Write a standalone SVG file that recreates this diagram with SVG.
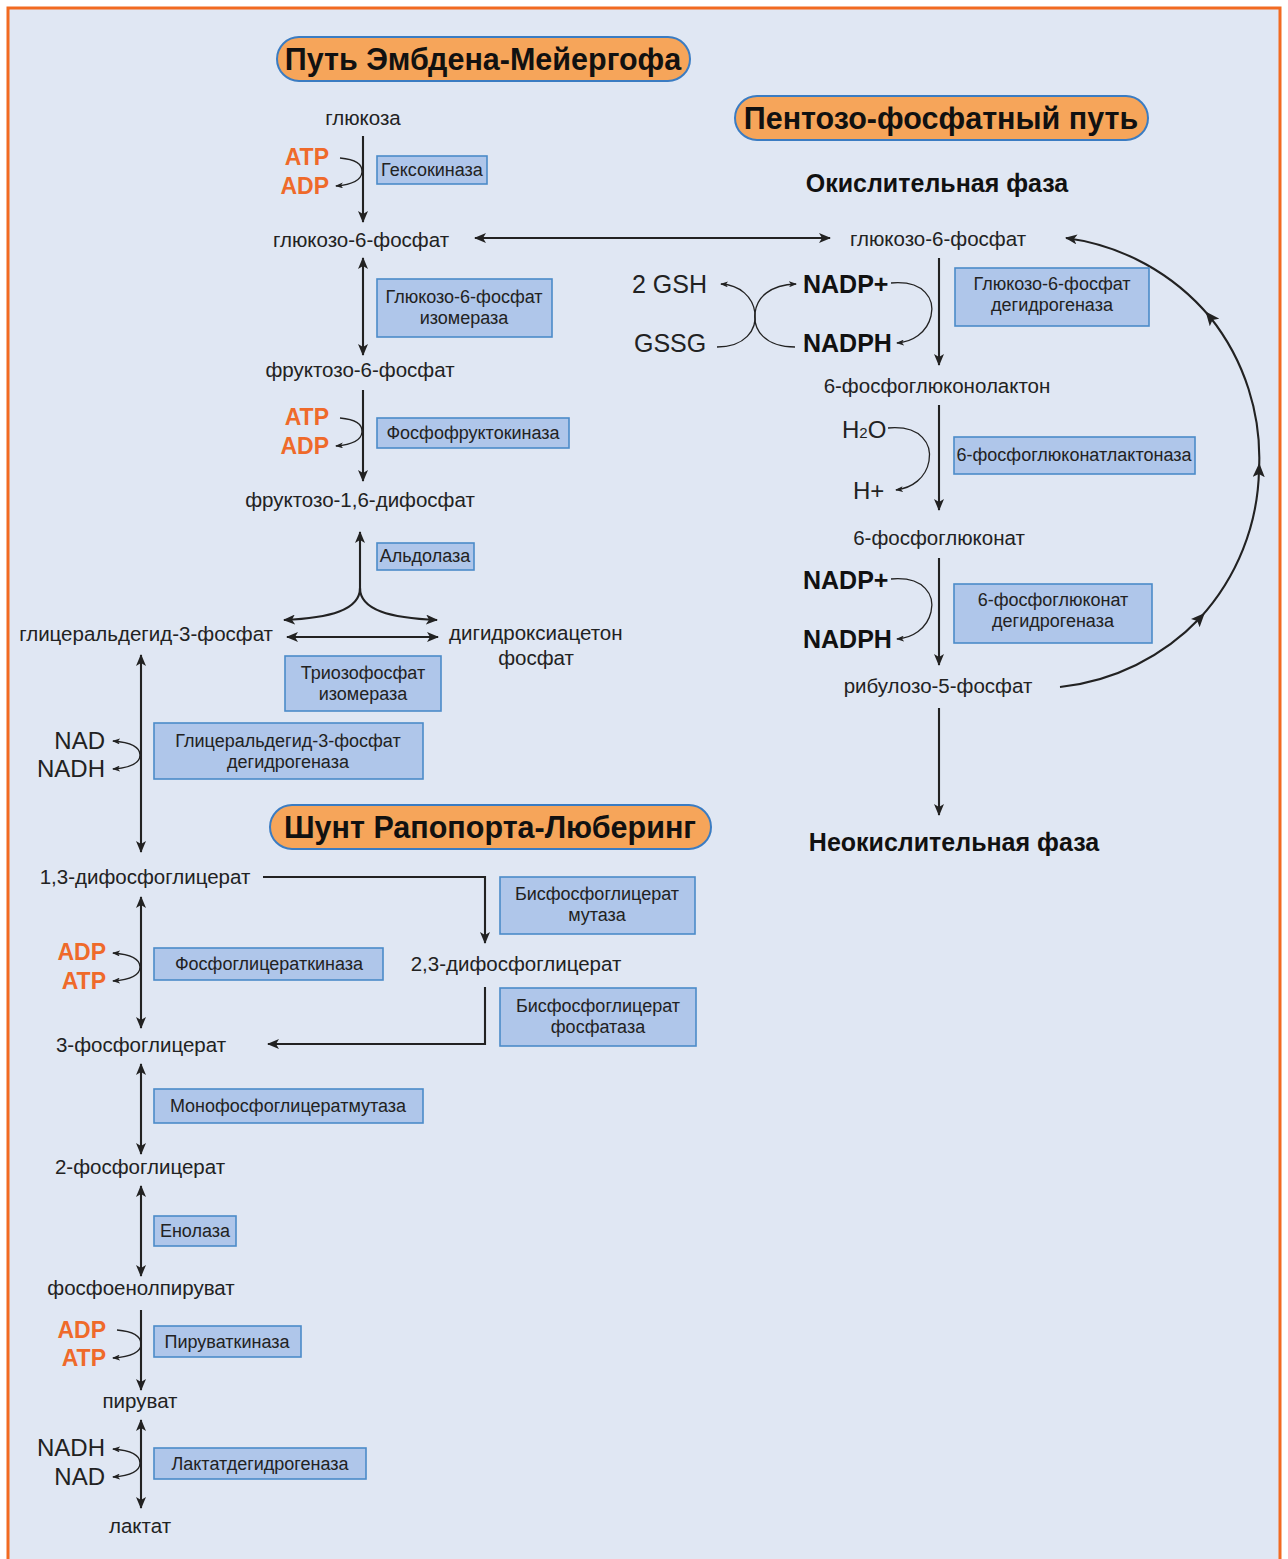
<svg xmlns="http://www.w3.org/2000/svg" width="1288" height="1559" viewBox="0 0 1288 1559">
<defs>
<marker id="ah" markerUnits="userSpaceOnUse" viewBox="0 0 12 10" refX="11" refY="5" markerWidth="12" markerHeight="10" orient="auto-start-reverse"><path d="M0,0 L12,5 L0,10 L3,5 z" fill="#222"/></marker>
<marker id="sh" markerUnits="userSpaceOnUse" viewBox="0 0 8 6" refX="7" refY="3" markerWidth="8" markerHeight="6" orient="auto-start-reverse"><path d="M0,0 L8,3 L0,6 L2,3 z" fill="#222"/></marker>
<marker id="mh" markerUnits="userSpaceOnUse" viewBox="0 0 14 12" refX="7" refY="6" markerWidth="14" markerHeight="12" orient="auto"><path d="M0,0 L14,6 L0,12 L3,6 z" fill="#222"/></marker>
<style>
.bg{fill:#e0e7f3;stroke:#f26a21;stroke-width:3}
.pill{fill:#f6a55a;stroke:#3b7cc2;stroke-width:2}
.pt{font-family:"Liberation Sans",Arial,sans-serif;font-weight:bold;font-size:30.5px;fill:#111;text-anchor:middle}
.box{fill:#afc6ea;stroke:#4b8bc9;stroke-width:1.6}
.et{font-family:"Liberation Sans",Arial,sans-serif;font-size:18px;fill:#222;text-anchor:middle}
.mt{font-family:"Liberation Sans",Arial,sans-serif;font-size:20.5px;fill:#222;text-anchor:middle}
.ph{font-family:"Liberation Sans",Arial,sans-serif;font-weight:bold;font-size:25px;fill:#111;text-anchor:middle}
.or{font-family:"Liberation Sans",Arial,sans-serif;font-weight:bold;font-size:23px;fill:#ef6a2a;text-anchor:end}
.cf{font-family:"Liberation Sans",Arial,sans-serif;font-size:24px;fill:#222}
.cg{font-family:"Liberation Sans",Arial,sans-serif;font-size:25px;fill:#222}
.cb{font-family:"Liberation Sans",Arial,sans-serif;font-weight:bold;font-size:25px;fill:#111}
.ln{fill:none;stroke:#222;stroke-width:2.1}
.cu{fill:none;stroke:#222;stroke-width:1.3}
</style>
</defs>
<rect class="bg" x="8" y="8" width="1272" height="1570"/>

<g id="connectors">
<path class="ln" d="M363,136 V222" marker-end="url(#ah)"/>
<path class="ln" d="M363,258 V355" marker-start="url(#ah)" marker-end="url(#ah)"/>
<path class="ln" d="M363,390 V481" marker-end="url(#ah)"/>
<path class="ln" d="M360,590 V532" marker-end="url(#ah)"/>
<path class="ln" d="M360,588 C360,610 330,618 284,620" marker-end="url(#ah)"/>
<path class="ln" d="M360,588 C360,610 390,618 437,620" marker-end="url(#ah)"/>
<path class="ln" d="M287,637 H438" marker-start="url(#ah)" marker-end="url(#ah)"/>
<path class="ln" d="M141,655 V852" marker-start="url(#ah)" marker-end="url(#ah)"/>
<path class="ln" d="M141,897 V1028" marker-start="url(#ah)" marker-end="url(#ah)"/>
<path class="ln" d="M141,1064 V1154" marker-start="url(#ah)" marker-end="url(#ah)"/>
<path class="ln" d="M141,1186 V1276" marker-start="url(#ah)" marker-end="url(#ah)"/>
<path class="ln" d="M141,1310 V1390" marker-end="url(#ah)"/>
<path class="ln" d="M141,1420 V1508" marker-start="url(#ah)" marker-end="url(#ah)"/>
<path class="ln" d="M263,877 H485 V943" marker-end="url(#ah)"/>
<path class="ln" d="M485,987 V1044 H268" marker-end="url(#ah)"/>
<path class="ln" d="M475,238 H830" marker-start="url(#ah)" marker-end="url(#ah)"/>
<path class="ln" d="M939,258 V365" marker-end="url(#ah)"/>
<path class="ln" d="M939,405 V510" marker-end="url(#ah)"/>
<path class="ln" d="M939,558 V665" marker-end="url(#ah)"/>
<path class="ln" d="M939,708 V815" marker-end="url(#ah)"/>
<path class="ln" d="M1060,687 A226,226 0 0 0 1200,618 A226,226 0 0 0 1259,470 A226,226 0 0 0 1210,317 A226,226 0 0 0 1066,238" marker-mid="url(#mh)" marker-end="url(#ah)"/>
<path class="cu" d="M340,158 Q363,160 362,172 Q361,184 336,186" marker-end="url(#sh)"/>
<path class="cu" d="M340,418 Q363,420 362,432 Q361,444 336,446" marker-end="url(#sh)"/>
<path class="cu" d="M113,741 Q140,743 140,755 Q140,767 113,769" marker-start="url(#sh)" marker-end="url(#sh)"/>
<path class="cu" d="M113,953 Q140,955 140,967 Q140,979 113,981" marker-start="url(#sh)" marker-end="url(#sh)"/>
<path class="cu" d="M117,1330 Q141,1332 141,1344 Q141,1356 113,1358" marker-end="url(#sh)"/>
<path class="cu" d="M113,1449 Q140,1451 140,1463 Q140,1475 113,1477" marker-start="url(#sh)" marker-end="url(#sh)"/>
<path class="cu" d="M891,283 C925,280 935,300 931,316 C927,333 912,342 897,343" marker-end="url(#sh)"/>
<path class="cu" d="M888,428 C922,425 932,445 929,461 C926,478 912,488 896,490" marker-end="url(#sh)"/>
<path class="cu" d="M891,579 C925,576 935,596 931,612 C927,629 912,638 897,639" marker-end="url(#sh)"/>
<path class="cu" d="M717,347 C745,347 757,330 755,313 C753,297 740,285 721,284" marker-end="url(#sh)"/>
<path class="cu" d="M795,347 C765,347 753,330 755,313 C757,297 770,285 796,284" marker-end="url(#sh)"/>
</g>

<g id="title-emp"><rect class="pill" x="277" y="37" width="413" height="44" rx="22"/><text class="pt" x="483" y="70">Путь Эмбдена-Мейергофа</text></g>
<g id="title-ppp"><rect class="pill" x="735" y="96" width="413" height="44" rx="22"/><text class="pt" x="941" y="129">Пентозо-фосфатный путь</text></g>
<g id="title-rl"><rect class="pill" x="270" y="805" width="441" height="44" rx="22"/><text class="pt" x="490" y="838">Шунт Рапопорта-Люберинг</text></g>

<g id="glucose"><text class="mt" x="363" y="125">глюкоза</text></g>
<g id="g6p-left"><text class="mt" x="361" y="247">глюкозо-6-фосфат</text></g>
<g id="f6p"><text class="mt" x="360" y="377">фруктозо-6-фосфат</text></g>
<g id="f16bp"><text class="mt" x="360" y="507">фруктозо-1,6-дифосфат</text></g>
<g id="gap"><text class="mt" x="273" y="641" style="text-anchor:end">глицеральдегид-3-фосфат</text></g>
<g id="dhap"><text class="mt" x="449" y="640" style="text-anchor:start">дигидроксиацетон</text><text class="mt" x="536" y="665">фосфат</text></g>
<g id="bpg13"><text class="mt" x="145" y="884">1,3-дифосфоглицерат</text></g>
<g id="bpg23"><text class="mt" x="516" y="971">2,3-дифосфоглицерат</text></g>
<g id="pg3"><text class="mt" x="141" y="1052">3-фосфоглицерат</text></g>
<g id="pg2"><text class="mt" x="140" y="1174">2-фосфоглицерат</text></g>
<g id="pep"><text class="mt" x="141" y="1295">фосфоенолпируват</text></g>
<g id="pyruvate"><text class="mt" x="140" y="1408">пируват</text></g>
<g id="lactate"><text class="mt" x="140" y="1533">лактат</text></g>

<g id="ox-phase"><text class="ph" x="937" y="192">Окислительная фаза</text></g>
<g id="g6p-right"><text class="mt" x="938" y="246">глюкозо-6-фосфат</text></g>
<g id="pgl6"><text class="mt" x="937" y="393">6-фосфоглюконолактон</text></g>
<g id="pg6"><text class="mt" x="939" y="545">6-фосфоглюконат</text></g>
<g id="ru5p"><text class="mt" x="938" y="693">рибулозо-5-фосфат</text></g>
<g id="nonox-phase"><text class="ph" x="954" y="851">Неокислительная фаза</text></g>

<g id="cof-hk"><text class="or" x="329" y="165">ATP</text><text class="or" x="329" y="194">ADP</text></g>
<g id="cof-pfk"><text class="or" x="329" y="425">ATP</text><text class="or" x="329" y="454">ADP</text></g>
<g id="cof-gapdh"><text class="cf" x="105" y="749" style="text-anchor:end">NAD</text><text class="cf" x="105" y="777" style="text-anchor:end">NADH</text></g>
<g id="cof-pgk"><text class="or" x="106" y="960">ADP</text><text class="or" x="106" y="989">ATP</text></g>
<g id="cof-pk"><text class="or" x="106" y="1338">ADP</text><text class="or" x="106" y="1366">ATP</text></g>
<g id="cof-ldh"><text class="cf" x="105" y="1456" style="text-anchor:end">NADH</text><text class="cf" x="105" y="1485" style="text-anchor:end">NAD</text></g>
<g id="gsh"><text class="cg" x="632" y="293">2 GSH</text><text class="cg" x="634" y="352">GSSG</text></g>
<g id="cof-g6pd"><text class="cb" x="803" y="293">NADP+</text><text class="cb" x="803" y="352">NADPH</text></g>
<g id="cof-lac"><text class="cf" x="842" y="438">H<tspan font-size="15">2</tspan>O</text><text class="cf" x="853" y="499">H+</text></g>
<g id="cof-6pgd"><text class="cb" x="803" y="589">NADP+</text><text class="cb" x="803" y="648">NADPH</text></g>

<g id="enz-hk"><rect class="box" x="377" y="156" width="110" height="28"/><text class="et" x="432" y="176">Гексокиназа</text></g>
<g id="enz-gpi"><rect class="box" x="377" y="279" width="175" height="58"/><text class="et" x="464" y="303">Глюкозо-6-фосфат</text><text class="et" x="464" y="324">изомераза</text></g>
<g id="enz-pfk"><rect class="box" x="377" y="418" width="192" height="30"/><text class="et" x="473" y="439">Фосфофруктокиназа</text></g>
<g id="enz-ald"><rect class="box" x="377" y="543" width="97" height="27"/><text class="et" x="425" y="562">Альдолаза</text></g>
<g id="enz-tpi"><rect class="box" x="285" y="656" width="156" height="55"/><text class="et" x="363" y="679">Триозофосфат</text><text class="et" x="363" y="700">изомераза</text></g>
<g id="enz-gapdh"><rect class="box" x="154" y="723" width="269" height="56"/><text class="et" x="288" y="747">Глицеральдегид-3-фосфат</text><text class="et" x="288" y="768">дегидрогеназа</text></g>
<g id="enz-bpgm"><rect class="box" x="500" y="877" width="195" height="57"/><text class="et" x="597" y="900">Бисфосфоглицерат</text><text class="et" x="597" y="921">мутаза</text></g>
<g id="enz-bpgp"><rect class="box" x="500" y="988" width="196" height="58"/><text class="et" x="598" y="1012">Бисфосфоглицерат</text><text class="et" x="598" y="1033">фосфатаза</text></g>
<g id="enz-pgk"><rect class="box" x="154" y="948" width="229" height="32"/><text class="et" x="269" y="970">Фосфоглицераткиназа</text></g>
<g id="enz-pgm"><rect class="box" x="154" y="1089" width="269" height="34"/><text class="et" x="288" y="1112">Монофосфоглицератмутаза</text></g>
<g id="enz-eno"><rect class="box" x="154" y="1216" width="82" height="30"/><text class="et" x="195" y="1237">Енолаза</text></g>
<g id="enz-pk"><rect class="box" x="154" y="1326" width="147" height="31"/><text class="et" x="227" y="1348">Пируваткиназа</text></g>
<g id="enz-ldh"><rect class="box" x="154" y="1448" width="212" height="31"/><text class="et" x="260" y="1470">Лактатдегидрогеназа</text></g>
<g id="enz-g6pd"><rect class="box" x="955" y="268" width="194" height="58"/><text class="et" x="1052" y="290">Глюкозо-6-фосфат</text><text class="et" x="1052" y="311">дегидрогеназа</text></g>
<g id="enz-6pgl"><rect class="box" x="954" y="437" width="241" height="37"/><text class="et" x="1074" y="461">6-фосфоглюконатлактоназа</text></g>
<g id="enz-6pgd"><rect class="box" x="954" y="584" width="198" height="59"/><text class="et" x="1053" y="606">6-фосфоглюконат</text><text class="et" x="1053" y="627">дегидрогеназа</text></g>
</svg>
